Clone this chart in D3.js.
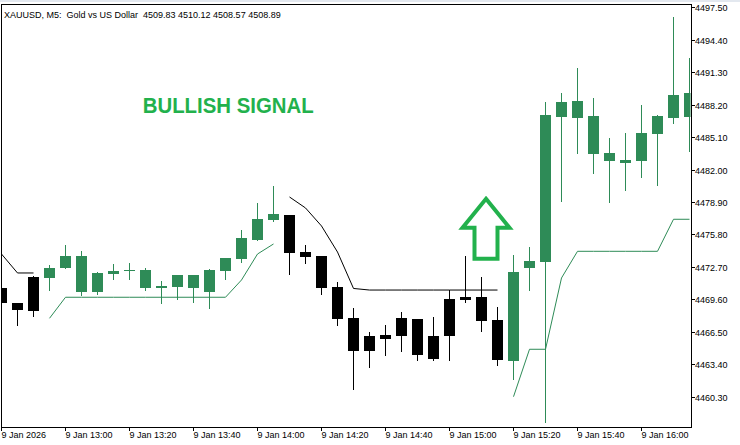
<!DOCTYPE html>
<html><head><meta charset="utf-8">
<script src="https://cdn.jsdelivr.net/npm/d3@7"></script>
<style>
html,body{margin:0;padding:0;background:#fff;}
svg{display:block;}
text{font-family:"Liberation Sans",Arial,sans-serif;}
</style></head>
<body><svg id="c" width="740" height="445"></svg>
<script>
// ---- data ----
const times = ["12:40","12:45","12:50","12:55","13:00","13:05","13:10","13:15","13:20","13:25","13:30","13:35","13:40","13:45","13:50","13:55",
"14:00","14:05","14:10","14:15","14:20","14:25","14:30","14:35","14:40","14:45","14:50","14:55",
"15:00","15:05","15:10","15:15","15:20","15:25","15:30","15:35","15:40","15:45","15:50","15:55","16:00","16:05","16:10","16:15"];
const open  = [4470.71,4469.28,4468.52,4471.67,4472.62,4473.74,4470.33,4472.05,4472.34,4472.40,4470.71,4470.81,4471.93,4470.33,4472.34,4473.48,4475.27,4477.21,
4477.69,4474.15,4473.74,4470.78,4467.82,4464.70,4466.22,4466.13,4467.75,4463.93,4466.13,4469.57,4469.83,4467.63,
4463.74,4472.62,4473.17,4487.02,4488.55,4487.12,4483.58,4482.65,4482.85,4485.43,4486.95,4489.31];
const high  = [4470.88,4469.28,4471.83,4472.88,4474.79,4474.25,4472.24,4472.98,4473.10,4472.60,4471.35,4471.93,4471.93,4472.53,4473.55,4476.23,4478.81,4480.46,
4477.69,4474.79,4473.74,4471.26,4468.77,4466.48,4467.18,4468.42,4467.75,4467.94,4470.49,4473.74,4471.71,4468.84,
4473.84,4474.57,4488.45,4489.31,4491.70,4488.84,4485.01,4485.52,4488.20,4487.21,4496.60,4492.63];
const low   = [4469.16,4467.15,4468.04,4470.49,4472.60,4470.02,4470.11,4471.57,4471.54,4470.52,4469.28,4469.66,4469.38,4468.80,4471.57,4473.20,4475.27,4477.11,
4472.05,4473.10,4470.14,4467.18,4461.07,4463.17,4464.31,4464.70,4463.84,4463.84,4463.84,4469.38,4466.61,4463.36,
4462.02,4470.52,4457.91,4479.02,4483.61,4481.70,4478.93,4480.08,4481.32,4480.55,4486.42,4483.80];
const close = [4469.28,4468.61,4471.74,4472.60,4473.74,4470.33,4472.12,4472.34,4472.40,4470.71,4470.88,4471.93,4470.71,4472.40,4473.55,4475.46,4477.28,4477.75,
4474.06,4473.65,4470.71,4467.75,4464.70,4466.13,4465.84,4467.85,4464.31,4466.13,4469.66,4469.85,4467.56,4463.84,
4472.21,4473.26,4487.21,4488.45,4486.93,4483.49,4482.85,4482.94,4485.52,4487.14,4489.15,4487.05];
// trailing stop lines (null where inactive)
const resistanceStop = [4473.93,4472.12,4472.12,null,null,null,null,null,null,null,null,null,null,null,null,null,null,null,
4479.38,4478.33,4476.61,4474.12,4470.64,4470.49,4470.49,4470.49,4470.49,4470.49,4470.49,4470.49,4470.49,4470.49,
null,null,null,null,null,null,null,null,null,null,null,null];
const supportStop = [null,null,null,4467.79,4469.80,4469.80,4469.80,4469.80,4469.80,4469.80,4469.80,4469.80,4469.80,4469.80,4469.80,4471.45,4473.93,4474.89,
null,null,null,null,null,null,null,null,null,null,null,null,null,null,
4460.30,4464.83,4464.83,4471.64,4474.19,4474.19,4474.19,4474.19,4474.19,4474.19,4477.25,4477.25];
const priceTicks = [4497.50,4494.40,4491.30,4488.20,4485.10,4482.00,4478.90,4475.80,4472.70,4469.60,4466.50,4463.40,4460.30];
const timeTicks = ["12:40","13:00","13:20","13:40","14:00","14:20","14:40","15:00","15:20","15:40","16:00"];
const timeTickLabels = ["9 Jan 2026","9 Jan 13:00","9 Jan 13:20","9 Jan 13:40","9 Jan 14:00","9 Jan 14:20","9 Jan 14:40","9 Jan 15:00","9 Jan 15:20","9 Jan 15:40","9 Jan 16:00"];
const titleText = "XAUUSD, M5:  Gold vs US Dollar  4509.83 4510.12 4508.57 4508.89";
const signalText = "BULLISH SIGNAL";
const signalBar = "15:10", signalPrice = 4479.2;

// ---- layout ----
const L = 1, R = 691, T = 4, B = 427;
const bull = "#2e8b57", bear = "#000000", signalGreen = "#22b14c";
const svg = d3.select("#c");
const idx = times.map((t,i)=>i);
const x = d3.scaleLinear().domain([0, times.length-1]).range([1.5, 1.5 + 16*(times.length-1)]);
const y = d3.scaleLinear().domain([4460.30, 4497.50]).range([396.7, 7.3]);

// top strip
svg.append("rect").attr("x",0).attr("y",0).attr("width",740).attr("height",2).attr("fill","#e3e8ef");

svg.append("defs").append("clipPath").attr("id","pc").append("rect")
  .attr("x",L+0.5).attr("y",T+0.5).attr("width",R-L-1).attr("height",B-T-1);
const plot = svg.append("g").attr("clip-path","url(#pc)");

const trend = idx.map(i => supportStop[i] != null ? "up" : "down");
const col = i => trend[i] === "up" ? bull : bear;

// stop lines
const line = d3.line().defined(d => d.v != null).x(d => x(d.i)).y(d => y(d.v));
plot.append("path").datum(idx.map(i=>({i, v: resistanceStop[i]})))
  .attr("d", line).attr("fill","none").attr("stroke","#000").attr("stroke-width",1);
plot.append("path").datum(idx.map(i=>({i, v: supportStop[i]})))
  .attr("d", line).attr("fill","none").attr("stroke",bull).attr("stroke-width",1);

// candles
const cg = plot.append("g").attr("shape-rendering","crispEdges");
idx.forEach(i => {
  const cx = x(i);
  cg.append("line").attr("x1",cx).attr("x2",cx)
    .attr("y1",Math.round(y(high[i]))).attr("y2",Math.round(y(low[i])) + 1)
    .attr("stroke",col(i)).attr("stroke-width",1);
  const top = Math.round(y(Math.max(open[i],close[i])));
  const bot = Math.round(y(Math.min(open[i],close[i])));
  cg.append("rect").attr("x",cx-5.5).attr("y",top).attr("width",11)
    .attr("height",Math.max(1, bot-top)).attr("fill",col(i));
});

// frame
const fg = svg.append("g").attr("shape-rendering","crispEdges");
fg.append("line").attr("x1",L+0.5).attr("x2",L+0.5).attr("y1",T).attr("y2",B+0.5).attr("stroke","#000");
fg.append("line").attr("x1",R+0.5).attr("x2",R+0.5).attr("y1",T).attr("y2",B+0.5).attr("stroke","#000");
fg.append("line").attr("x1",L).attr("x2",R+1).attr("y1",B+0.5).attr("y2",B+0.5).attr("stroke","#000");
fg.append("line").attr("x1",L).attr("x2",R+1).attr("y1",T+0.5).attr("y2",T+0.5).attr("stroke","#000");

// right price axis
const ya = svg.append("g");
priceTicks.forEach(p => {
  const yy = Math.round(y(p)) + 0.5;
  ya.append("line").attr("x1",R+1).attr("x2",R+4).attr("y1",yy).attr("y2",yy)
    .attr("stroke","#000").attr("shape-rendering","crispEdges");
  ya.append("text").attr("x",R+4).attr("y",yy).attr("dy","0.35em")
    .attr("font-size","9px").attr("fill","#000").text(p.toFixed(2));
});

// bottom time axis
const xa = svg.append("g");
timeTicks.forEach((t,k) => {
  const xx = Math.round(x(times.indexOf(t)) - 0.5) + 0.5;
  xa.append("line").attr("x1",xx).attr("x2",xx).attr("y1",B).attr("y2",B+4)
    .attr("stroke","#000").attr("shape-rendering","crispEdges");
  xa.append("text").attr("x",xx).attr("y",B+11).attr("font-size","9px").attr("fill","#000").text(timeTickLabels[k]);
});

// title
svg.append("text").attr("x",4).attr("y",18).attr("font-size","9px").attr("fill","#000")
  .style("white-space","pre").text(titleText);

// signal label
svg.append("text").attr("x",142.7).attr("y",113.3)
  .attr("font-family","'Open Sans',sans-serif").attr("font-weight",700).attr("font-size","22.4px")
  .attr("textLength",171).attr("lengthAdjust","spacingAndGlyphs")
  .attr("fill",signalGreen).text(signalText);

// signal arrow (anchored at signal bar/price)
const ax = x(times.indexOf(signalBar)) + 4.5, ay = y(signalPrice);
const shape = [[0,0],[23.5,29],[11.5,29],[11.5,60],[-11.5,60],[-11.5,29],[-23.5,29]];
svg.append("path").attr("d", d3.line()(shape.map(([dx,dy]) => [ax+dx, ay+dy])) + "Z")
  .attr("fill","none").attr("stroke",signalGreen).attr("stroke-width",4).attr("stroke-linejoin","miter");
</script></body></html>
